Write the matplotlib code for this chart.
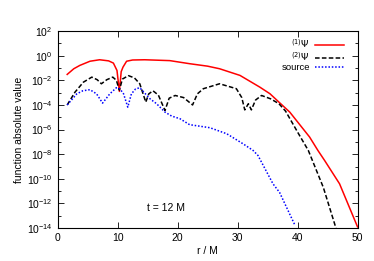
import numpy as np
import matplotlib
matplotlib.use("Agg")
import matplotlib.pyplot as plt
from matplotlib.ticker import FixedLocator, NullFormatter

# values, as log10 of the absolute value
r_psi1 = [1.6, 2.7, 3.7, 5.4, 7.0, 8.5, 9.3, 9.9, 10.3, 10.6, 10.9, 11.5, 12.5, 14.5,
          18.7, 22.0, 25.0, 27.0, 30.4, 33.7, 35.4, 36.9, 38.7, 42.0, 43.4, 44.5, 47.0, 50.0]
log_psi1 = [-1.52, -1.06, -0.79, -0.45, -0.33, -0.42, -0.6, -1.2, -2.9, -1.3, -0.93, -0.45, -0.35, -0.33,
            -0.4, -0.65, -0.85, -1.06, -1.6, -2.55, -3.09, -3.77, -4.58, -6.6, -7.7, -8.5, -10.4, -13.9]

r_psi2 = [1.6, 2.9, 4.3, 5.7, 6.6, 7.3, 8.2, 9.2, 9.8, 10.3, 10.8, 11.8, 12.8, 13.7, 14.7,
          15.2, 15.9, 16.8, 17.9, 18.6, 19.6, 21.0, 22.5, 23.3, 24.3, 27.0, 29.8, 30.7, 31.2,
          31.8, 32.3, 33.0, 34.0, 35.5, 36.9, 38.0, 40.0, 41.8, 44.3, 46.4]
log_psi2 = [-4.0, -2.96, -2.15, -1.74, -1.95, -2.28, -1.95, -1.74, -2.0, -2.8, -1.9, -1.62, -1.8, -2.28, -3.77,
            -3.1, -2.85, -3.2, -4.45, -3.45, -3.23, -3.4, -4.0, -3.1, -2.68, -2.28, -2.68, -3.4, -4.4,
            -3.9, -4.4, -3.6, -3.23, -3.5, -3.9, -4.5, -6.2, -7.7, -10.7, -14.0]

r_src = [1.6, 3.2, 4.2, 5.4, 6.5, 7.5, 8.7, 9.8, 10.4, 11.0, 11.7, 12.3, 13.0, 13.7,
         15.4, 16.5, 17.9, 19.0, 20.4, 22.0, 25.4, 28.2, 30.9, 32.6, 33.4, 35.9, 37.0,
         39.5]
log_src = [-4.0, -3.1, -2.85, -2.76, -3.1, -3.85, -3.1, -2.6, -2.7, -3.1, -4.18, -3.1, -2.7, -2.6,
           -3.5, -3.9, -4.58, -4.9, -5.12, -5.6, -5.85, -6.34, -7.15, -7.7, -8.1, -10.4, -11.1,
           -13.7]

labels = [r"$^{(1)}\Psi$", r"$^{(2)}\Psi$", "source"]

plt.rcParams["font.family"] = ["Liberation Sans", "DejaVu Sans"]
plt.rcParams["mathtext.fontset"] = "dejavusans"

fig = plt.figure(figsize=(3.74, 2.61), dpi=100)
ax = fig.add_axes([0.154, 0.126, 0.802, 0.755])

ax.plot(r_psi1, 10.0 ** np.array(log_psi1), color="#ff0000", lw=1.1, label=labels[0])
ax.plot(r_psi2, 10.0 ** np.array(log_psi2), color="black", lw=1.1,
        linestyle=(0, (3, 1.5)), label=labels[1])
ax.plot(r_src, 10.0 ** np.array(log_src), color="#0000ff", lw=1.1,
        linestyle=(0, (1, 1.2)), label=labels[2])

ax.set_yscale("log")
ax.set_xlim(0, 50)
ax.set_ylim(1e-14, 1e2)
ax.set_xticks([0, 10, 20, 30, 40, 50])
ax.yaxis.set_major_locator(FixedLocator([10.0 ** k for k in range(-14, 3, 2)]))
ax.yaxis.set_minor_locator(FixedLocator([10.0 ** k for k in range(-13, 2, 2)]))
ax.yaxis.set_minor_formatter(NullFormatter())
ax.tick_params(which="both", direction="in", top=True, right=True, labelsize=7.5)
ax.tick_params(which="major", length=4, width=0.6)
ax.tick_params(which="minor", length=2, width=0.6)
for s in ax.spines.values():
    s.set_linewidth(0.8)

ax.set_xlabel("r / M", fontsize=7.5, labelpad=2)
ax.set_ylabel("function absolute value", fontsize=7.5, labelpad=2)
ax.text(18, 10 ** -12.4, "t = 12 M", fontsize=7.5, ha="center", va="center")

leg = ax.legend(loc="upper right", frameon=False, fontsize=6.8, markerfirst=False,
                handlelength=3.0, handletextpad=0.6, borderpad=0.0, labelspacing=0.0,
                bbox_to_anchor=(0.97, 0.99))
for t in leg.get_texts():
    t.set_ha("right")

fig.savefig("out.png", dpi=100)
